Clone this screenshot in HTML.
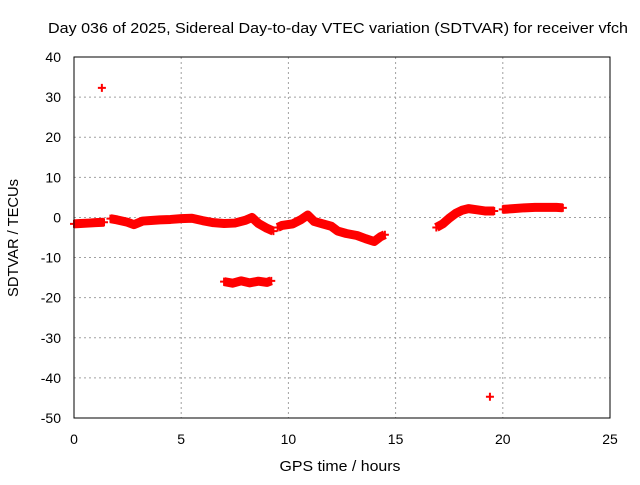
<!DOCTYPE html>
<html><head><meta charset="utf-8"><style>
body{margin:0;background:#fff}
svg{font-family:"Liberation Sans",Arial,sans-serif;font-size:14px}
</style></head><body>
<svg id="chart" width="640" height="480" xmlns="http://www.w3.org/2000/svg">
<rect width="640" height="480" fill="#fff"/>
<text x="338" y="33" text-anchor="middle" font-size="15" textLength="580" lengthAdjust="spacingAndGlyphs">Day 036 of 2025, Sidereal Day-to-day VTEC variation (SDTVAR) for receiver vfch</text>
<g id="grid"></g>
<g id="ticks"></g>
<g id="data"></g>
<rect x="74" y="57" width="536" height="361" fill="none" stroke="#000" stroke-width="1"/>
<text x="340" y="471" text-anchor="middle" font-size="15" textLength="121" lengthAdjust="spacingAndGlyphs">GPS time / hours</text>
<text transform="translate(18,238) rotate(-90)" text-anchor="middle" font-size="15" textLength="118" lengthAdjust="spacingAndGlyphs">SDTVAR / TECUs</text>
</svg>
<script>
const xTicks=[0,5,10,15,20,25];
const yTicks=[40,30,20,10,0,-10,-20,-30,-40,-50];
const segTimes=[
 [0.0,0.3,0.7,1.0,1.4],
 [1.7,2.0,2.5,2.8,3.2,3.5,4.0,4.5,5.0,5.5,6.0,6.5,7.0,7.5,8.0,8.3,8.6,9.0,9.3],
 [9.5,9.7,10.2,10.6,10.9,11.2,11.6,12.0,12.3,12.7,13.2,13.6,14.0,14.3,14.5],
 [7.0,7.4,7.8,8.2,8.6,9.0,9.2],
 [16.9,17.2,17.5,17.8,18.1,18.4,18.8,19.2,19.6],
 [20.0,20.5,21.0,21.5,22.0,22.5,22.8],
 [1.3],[19.4]];
const segValues=[
 [-1.6,-1.5,-1.4,-1.3,-1.2],
 [-0.3,-0.6,-1.2,-1.8,-0.9,-0.8,-0.6,-0.5,-0.3,-0.2,-0.8,-1.3,-1.5,-1.4,-0.7,0.0,-1.5,-2.7,-3.4],
 [-2.5,-2.0,-1.6,-0.5,0.6,-1.0,-1.6,-2.2,-3.4,-4.0,-4.5,-5.3,-6.0,-4.8,-4.3],
 [-16.0,-16.4,-15.8,-16.3,-15.9,-16.2,-15.8],
 [-2.5,-1.6,-0.2,1.0,1.8,2.2,1.9,1.6,1.6],
 [2.0,2.2,2.4,2.5,2.5,2.5,2.4],
 [32.3],[-44.7]];
const X=t=>74+t*536/25, Y=v=>57+(40-v)*361/90;
const NS="http://www.w3.org/2000/svg";
function mk(tag,attrs,parent){const e=document.createElementNS(NS,tag);for(const k in attrs)e.setAttribute(k,attrs[k]);parent.appendChild(e);return e;}
const grid=document.getElementById('grid'),ticks=document.getElementById('ticks'),data=document.getElementById('data');
xTicks.forEach(t=>{
 if(t>0&&t<25){const l=mk('line',{x1:X(t),x2:X(t),y1:57,y2:418,stroke:'#a0a0a0','stroke-dasharray':'2,3'},grid);
 
 }
 const tk=mk('text',{x:X(t),y:444,'text-anchor':'middle'},ticks);tk.textContent=t;
 
 
});
yTicks.forEach(v=>{
 if(v<40&&v>-50){const l=mk('line',{x1:74,x2:610,y1:Y(v),y2:Y(v),stroke:'#a0a0a0','stroke-dasharray':'2,3'},grid);
 
 }
 const tk=mk('text',{x:61,y:Y(v)+5,'text-anchor':'end'},ticks);tk.textContent=v;
 
 
});
segTimes.forEach((ts,i)=>{
 const vs=segValues[i];
 if(ts.length>1){
  const p=mk('polyline',{points:ts.map((t,j)=>X(t)+','+Y(vs[j])).join(' '),fill:'none',stroke:'#f00','stroke-width':9,'stroke-linejoin':'round'},data);
  
  
 }
 ts.forEach((t,j)=>{
  const x=X(t),y=Y(vs[j]);
  const m=mk('path',{d:`M${x-4},${y}H${x+4}M${x},${y-4}V${y+4}`,stroke:'#f00','stroke-width':2},data);
  
  
 });
});
</script>
</body></html>
